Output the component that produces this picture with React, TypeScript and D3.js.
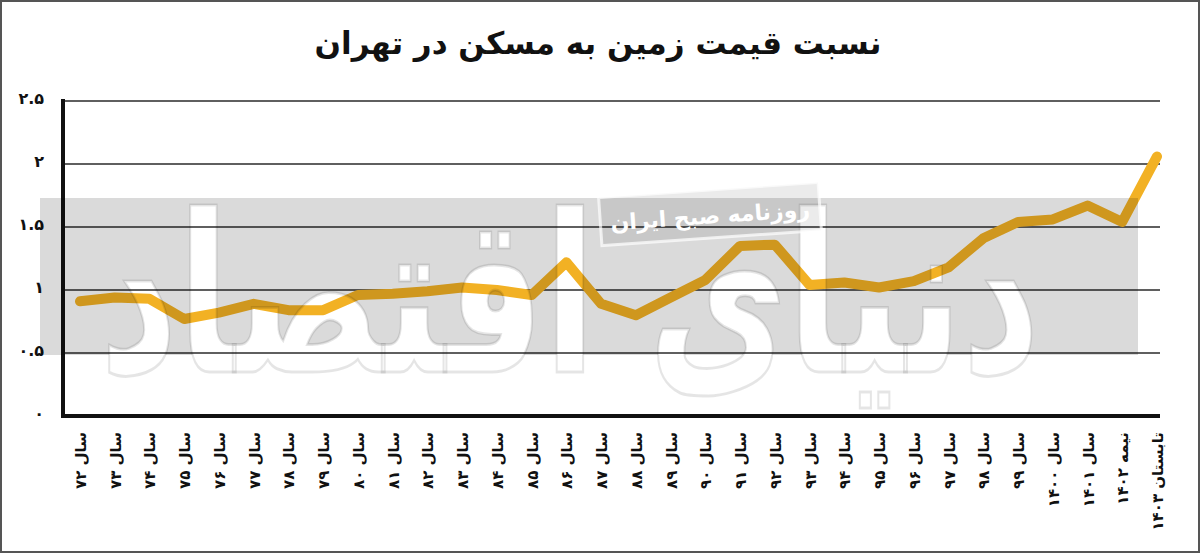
import React, { useLayoutEffect, useRef, useState } from "react";
import * as d3 from "d3";

const categories = [
  "سال ۷۲", "سال ۷۳", "سال ۷۴", "سال ۷۵", "سال ۷۶", "سال ۷۷", "سال ۷۸", "سال ۷۹",
  "سال ۸۰", "سال ۸۱", "سال ۸۲", "سال ۸۳", "سال ۸۴", "سال ۸۵", "سال ۸۶", "سال ۸۷",
  "سال ۸۸", "سال ۸۹", "سال ۹۰", "سال ۹۱", "سال ۹۲", "سال ۹۳", "سال ۹۴", "سال ۹۵",
  "سال ۹۶", "سال ۹۷", "سال ۹۸", "سال ۹۹", "سال ۱۴۰۰", "سال ۱۴۰۱", "نیمه ۱۴۰۲", "تابستان ۱۴۰۳",
];
const values = [
  0.91, 0.94, 0.93, 0.77, 0.82, 0.89, 0.84, 0.84,
  0.96, 0.97, 0.99, 1.02, 1.0, 0.96, 1.22, 0.89,
  0.8, 0.94, 1.08, 1.35, 1.36, 1.04, 1.06, 1.02,
  1.07, 1.18, 1.41, 1.54, 1.56, 1.67, 1.54, 2.06,
];
const yTicks = [0, 0.5, 1, 1.5, 2, 2.5];
const yTickLabels = ["۰", "۰.۵", "۱", "۱.۵", "۲", "۲.۵"];
const title = "نسبت قیمت زمین به مسکن در تهران";
const watermarkSmall = "روزنامه صبح ایران";
const watermarkBig = "دنیای اقتصاد";

const W = 1200;
const H = 553;
const FONT = "'DejaVu Sans', sans-serif";

export default function App() {
  const x = d3.scalePoint<string>().domain(categories).range([80, 1157]);
  const y = d3.scaleLinear().domain([0, 2.5]).range([416, 101]);
  const line = d3
    .line<number>()
    .x((_, i) => x(categories[i]) as number)
    .y((d) => y(d));

  const axisLeft = 63;
  const gridRight = 1160;

  const measureRef = useRef<SVGTextElement | null>(null);
  const [sx, setSx] = useState(1);
  useLayoutEffect(() => {
    if (measureRef.current) {
      const w = measureRef.current.getBBox().width;
      if (w > 0) setSx(940 / w);
    }
  }, []);

  const wmTransform = `translate(100,372) scale(${sx},1)`;

  return (
    <svg
      width={W}
      height={H}
      style={{ position: "absolute", left: 0, top: 0, background: "#fff" }}
      fontFamily={FONT}
    >
      <defs>
        <mask id="wmMask">
          <rect x={0} y={0} width={W} height={H} fill="#fff" />
          <g transform={wmTransform}>
            <path d="" />
            <text x={0} y={0} fontSize={220} fontWeight="bold" fill="#000">
              {watermarkBig}
            </text>
          </g>
        </mask>
      </defs>
      <rect x={1} y={1} width={W - 2} height={H - 2} fill="#fff" stroke="#555" strokeWidth={2} />

      <text x={598} y={54} textAnchor="middle" fontSize={31} fontWeight="bold" fill="#111">
        {title}
      </text>

      {yTicks.map((t) =>
        t === 0 ? null : (
          <line key={t} x1={axisLeft} x2={gridRight} y1={y(t)} y2={y(t)} stroke="#2a2a2a" strokeWidth={1.6} />
        )
      )}

      <path
        d={line(values) || ""}
        fill="none"
        stroke="#F2B124"
        strokeWidth={10}
        strokeLinejoin="round"
        strokeLinecap="round"
      />

      <line x1={axisLeft} x2={axisLeft} y1={99} y2={418} stroke="#111" strokeWidth={4} />
      <line x1={axisLeft - 2} x2={gridRight} y1={y(0)} y2={y(0)} stroke="#111" strokeWidth={4} />

      {yTicks.map((t, i) => (
        <text
          key={t}
          x={44}
          y={y(t) - 3}
          textAnchor="end"
          dominantBaseline="central"
          fontSize={16}
          fontWeight="bold"
          fill="#111"
        >
          {yTickLabels[i]}
        </text>
      ))}

      {categories.map((c) => (
        <text
          key={c}
          transform={`translate(${(x(c) as number) + 6},432) rotate(-90)`}
          textAnchor="end"
          fontSize={15}
          fontWeight="bold"
          fill="#111"
        >
          {c}
        </text>
      ))}

      <rect x={40} y={198} width={1098} height={157} fill="#000" opacity={0.14} mask="url(#wmMask)" />
      <g transform={wmTransform}>
        <text
          ref={measureRef}
          x={0}
          y={0}
          fontSize={220}
          fontWeight="bold"
          fill="none"
          stroke="#000"
          strokeOpacity={0.1}
          strokeWidth={3}
        >
          {watermarkBig}
        </text>
      </g>

      <g transform="translate(710,214) rotate(-4)">
        <rect
          x={-110}
          y={-24}
          width={220}
          height={48}
          fill="#000"
          fillOpacity={0.08}
          stroke="#fff"
          strokeOpacity={0.7}
          strokeWidth={3}
        />
        <text
          x={0}
          y={2}
          textAnchor="middle"
          dominantBaseline="central"
          fontSize={22}
          fontWeight="bold"
          fill="#fff"
        >
          {watermarkSmall}
        </text>
      </g>
    </svg>
  );
}
